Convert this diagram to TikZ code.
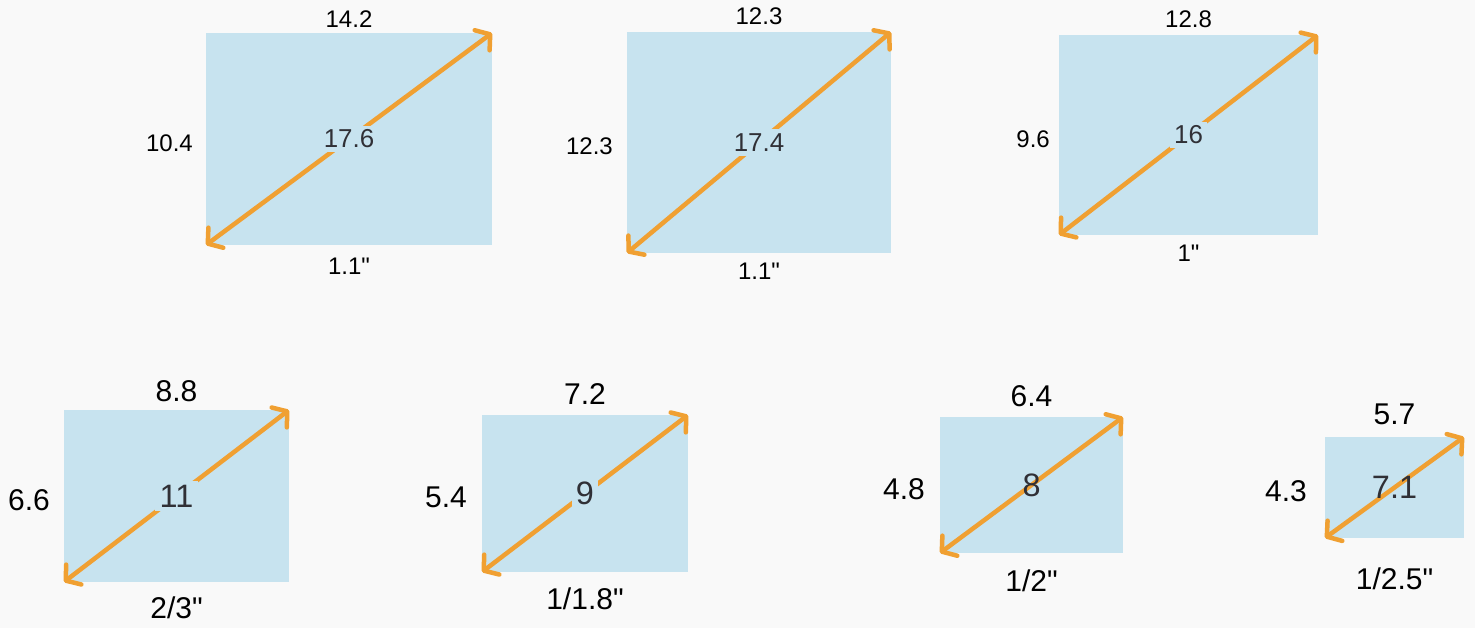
\documentclass[tikz,border=0pt]{standalone}
\usepackage{fontspec}
\setmainfont{Liberation Sans}[Ligatures=TeXOff]
\usetikzlibrary{positioning,arrows.meta}
\definecolor{pagebg}{RGB}{249,249,249}
\definecolor{chipfill}{RGB}{199,227,239}
\definecolor{diagorange}{RGB}{240,160,50}
\definecolor{diagtext}{RGB}{48,48,54}
\tikzset{
  chip/.style={fill=chipfill, inner sep=0pt, outer sep=0pt},
  diag/.style={draw=diagorange, line width=4.5pt, line cap=round,
               >={Straight Barb[length=10pt, width=25pt, round]}, <->},
  dimtext/.style={inner sep=0pt, text=black},
  midtext/.style={inner sep=4pt, text=diagtext, scale=1.08, transform shape},
}

\begin{document}
\begin{tikzpicture}[x=1pt, y=-1pt]
\fill[pagebg] (0,0) rectangle (1475,628);
\useasboundingbox (0,0) rectangle (1475,628);
% sensor areas, measured in pixels of the sheet
\foreach \i/\cx/\cy/\w/\h in {1/349/139/286/212, 2/759/142.5/264/221,
    3/1188.5/135/259/200, 4/176.5/496/225/172, 5/585/493.5/206/157,
    6/1031.5/485/183/136, 7/1394.5/487.5/139/101}
  \node[chip, minimum width=\w pt, minimum height=\h pt] (chip\i) at (\cx,\cy) {};
% diagonals, corner to corner
\foreach \i in {1,...,7}
  \draw[diag] (chip\i.south west) -- (chip\i.north east);
% width / height / diagonal / format, with the gaps to the edges
\foreach \i/\fz/\wl/\ga/\hl/\gl/\dl/\mf/\fl/\gb in {
    1/24/14.2/5/10.4/13/17.6/chipfill/{1.1"}/13,
    2/24/12.3/7/12.3/14/17.4/chipfill/{1.1"}/10,
    3/24/12.8/7/9.6/9/16/chipfill/{1"}/10,
    4/30/8.8/8/6.6/14/11/chipfill/{2/3"}/15,
    5/30/7.2/10/5.4/15/9/chipfill/{1/1.8"}/16,
    6/30/6.4/10/4.8/15/8/none/{1/2"}/17,
    7/30/5.7/12/4.3/18/7.1/none/{1/2.5"}/30} {
  \begin{scope}[every node/.append style={font=\fontsize{\fz}{\fz}\selectfont}]
    \node[dimtext, above=\ga pt of chip\i] (wd\i) {\wl};
    \node[dimtext, left=\gl pt of chip\i, yshift=-4pt] (ht\i) {\hl};
    \node[dimtext, below=\gb pt of chip\i] (fmt\i) {\fl};
    \node[midtext, fill=\mf] (dg\i) at (chip\i) {\dl};
  \end{scope}
}
\end{tikzpicture}
\end{document}
